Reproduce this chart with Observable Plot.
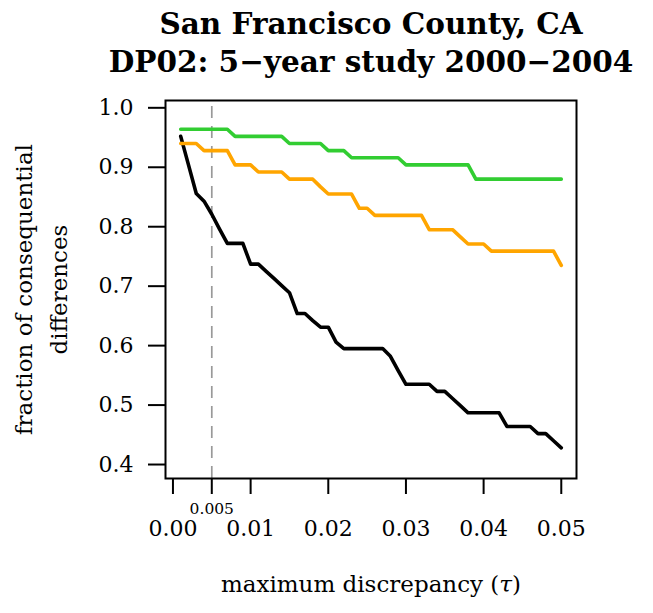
<!DOCTYPE html>
<html>
<head>
<meta charset="utf-8">
<script src="https://cdn.jsdelivr.net/npm/d3@7"></script>
<script src="https://cdn.jsdelivr.net/npm/@observablehq/plot@0.6"></script>
<style>
  html, body { margin: 0; padding: 0; background: white; }
  #chart { width: 653px; height: 613px; }
</style>
</head>
<body>
<div id="chart"></div>
<script>
const titleText = "San Francisco County, CA\nDP02: 5\u2212year study 2000\u22122004";
const xLabel = "maximum discrepancy (\u03c4)";
const yLabel = "fraction of consequential\ndifferences";

const taus = [0.001,0.002,0.003,0.004,0.005,0.006,0.007,0.008,0.009,0.010,
              0.011,0.012,0.013,0.014,0.015,0.016,0.017,0.018,0.019,0.020,
              0.021,0.022,0.023,0.024,0.025,0.026,0.027,0.028,0.029,0.030,
              0.031,0.032,0.033,0.034,0.035,0.036,0.037,0.038,0.039,0.040,
              0.041,0.042,0.043,0.044,0.045,0.046,0.047,0.048,0.049,0.050];

const greenSeries = [0.964,0.964,0.964,0.964,0.964,0.964,0.964,0.952,0.952,0.952,
                     0.952,0.952,0.952,0.952,0.940,0.940,0.940,0.940,0.940,0.928,
                     0.928,0.928,0.916,0.916,0.916,0.916,0.916,0.916,0.916,0.904,
                     0.904,0.904,0.904,0.904,0.904,0.904,0.904,0.904,0.880,0.880,
                     0.880,0.880,0.880,0.880,0.880,0.880,0.880,0.880,0.880,0.880];

const orangeSeries = [0.940,0.940,0.940,0.928,0.928,0.928,0.928,0.904,0.904,0.904,
                      0.892,0.892,0.892,0.892,0.880,0.880,0.880,0.880,0.867,0.855,
                      0.855,0.855,0.855,0.831,0.831,0.819,0.819,0.819,0.819,0.819,
                      0.819,0.819,0.795,0.795,0.795,0.795,0.783,0.771,0.771,0.771,
                      0.759,0.759,0.759,0.759,0.759,0.759,0.759,0.759,0.759,0.735];

const blackSeries = [0.952,0.904,0.856,0.843,0.821,0.796,0.772,0.772,0.772,0.737,
                     0.737,0.725,0.713,0.701,0.689,0.654,0.654,0.642,0.631,0.631,
                     0.606,0.595,0.595,0.595,0.595,0.595,0.595,0.582,0.558,0.535,
                     0.535,0.535,0.535,0.523,0.523,0.511,0.499,0.487,0.487,0.487,
                     0.487,0.487,0.464,0.464,0.464,0.464,0.452,0.452,0.440,0.428];

const seriesNames = ["series A", "series B", "series C"];
const seriesColors = ["#000000", "#FFA500", "#32CD32"];
const seriesValues = [blackSeries, orangeSeries, greenSeries];

const xTicks = [0, 0.01, 0.02, 0.03, 0.04, 0.05];
const yTicks = [0.4, 0.5, 0.6, 0.7, 0.8, 0.9, 1.0];
const markerTau = [0.005];

const rows = [];
seriesNames.forEach((name, i) => {
  taus.forEach((t, j) => rows.push({series: name, tau: t, value: seriesValues[i][j]}));
});

const serif = "DejaVu Serif";

const chart = Plot.plot({
  width: 653,
  height: 613,
  marginLeft: 165,
  marginRight: 77,
  marginTop: 100,
  marginBottom: 135,
  style: {fontFamily: serif, background: "white", color: "black"},
  x: {domain: [-0.00096, 0.05196]},
  y: {domain: [0.3765, 1.0123]},
  color: {type: "ordinal", domain: seriesNames, range: seriesColors},
  marks: [
    Plot.ruleX(markerTau, {x: d => d, y1: 0.3765, y2: 1.0123, stroke: "#999", strokeWidth: 1.7, strokeDasharray: "12,8"}),
    Plot.line(rows, {x: "tau", y: "value", z: "series", stroke: "series", strokeWidth: 3.6, strokeLinejoin: "round", strokeLinecap: "round"}),
    Plot.frame({stroke: "black", strokeWidth: 2}),
    Plot.axisY({ticks: yTicks, tickFormat: d3.format(".1f"), tickSize: 17, tickPadding: 15, fontSize: 22, strokeWidth: 2, label: null}),
    Plot.axisX({ticks: xTicks, tickFormat: d3.format(".2f"), tickSize: 16, tickPadding: 26, fontSize: 22, strokeWidth: 2, label: null}),
    Plot.axisX({ticks: markerTau, tickFormat: d3.format(".3f"), tickSize: 16, tickPadding: 8, fontSize: 15.5, strokeWidth: 2, label: null}),
    Plot.text([titleText], {text: d => d, frameAnchor: "top", lineAnchor: "bottom", dy: -29, fontSize: 29.5, fontWeight: "bold", lineHeight: 1.27}),
    Plot.text([yLabel], {text: d => d, frameAnchor: "left", textAnchor: "middle", rotate: -90, dx: -127, fontSize: 23, lineHeight: 1.5}),
    Plot.text([xLabel], {text: d => d, frameAnchor: "bottom", lineAnchor: "bottom", dy: 113, fontSize: 23})
  ]
});

document.getElementById("chart").appendChild(chart);

// italic tau in the x label
d3.select(chart).selectAll("text").each(function() {
  if (this.textContent === xLabel) {
    const el = d3.select(this);
    el.text("maximum discrepancy (");
    el.append("tspan").attr("font-style", "italic").text("\u03c4");
    el.append("tspan").text(")");
  }
});
</script>
</body>
</html>
